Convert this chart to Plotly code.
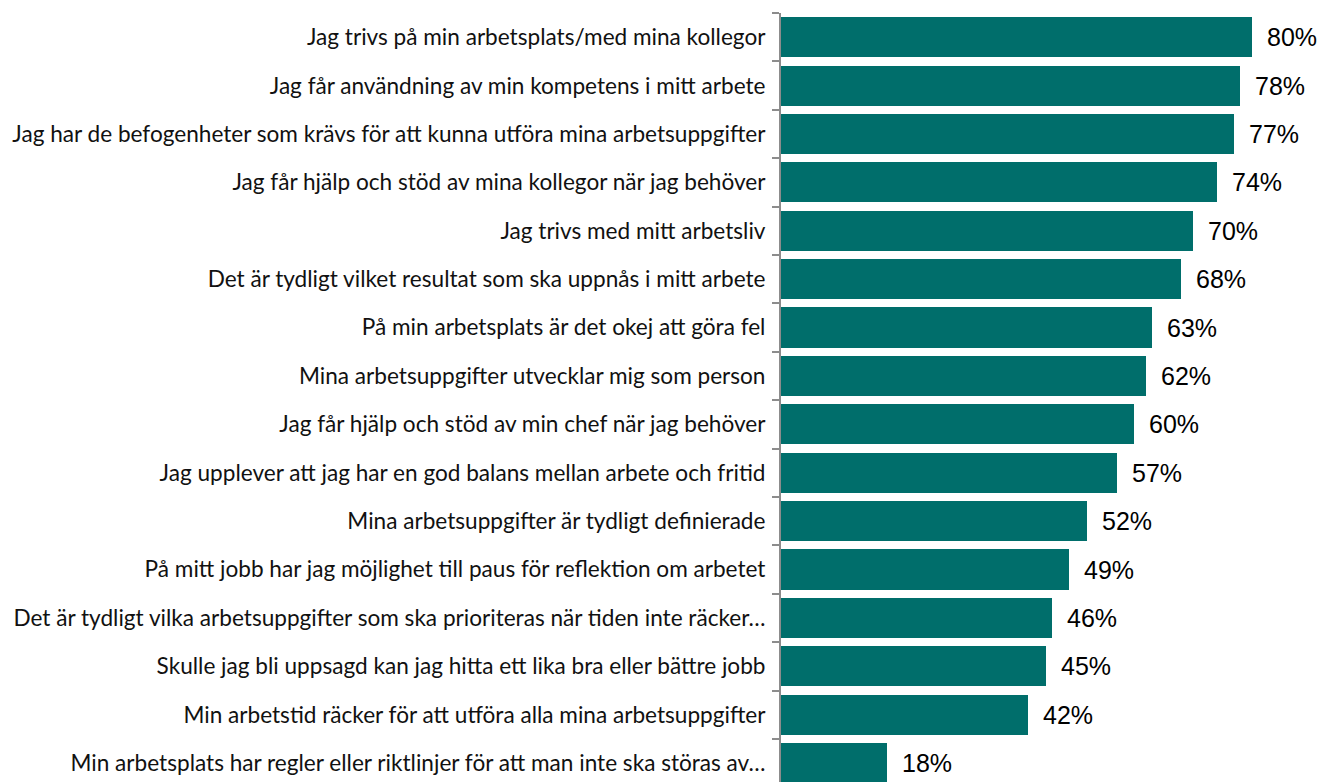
import plotly.graph_objects as go

STATEMENTS = [
    "Jag trivs på min arbetsplats/med mina kollegor",
    "Jag får användning av min kompetens i mitt arbete",
    "Jag har de befogenheter som krävs för att kunna utföra mina arbetsuppgifter",
    "Jag får hjälp och stöd av mina kollegor när jag behöver",
    "Jag trivs med mitt arbetsliv",
    "Det är tydligt vilket resultat som ska uppnås i mitt arbete",
    "På min arbetsplats är det okej att göra fel",
    "Mina arbetsuppgifter utvecklar mig som person",
    "Jag får hjälp och stöd av min chef när jag behöver",
    "Jag upplever att jag har en god balans mellan arbete och fritid",
    "Mina arbetsuppgifter är tydligt definierade",
    "På mitt jobb har jag möjlighet till paus för reflektion om arbetet",
    "Det är tydligt vilka arbetsuppgifter som ska prioriteras när tiden inte räcker…",
    "Skulle jag bli uppsagd kan jag hitta ett lika bra eller bättre jobb",
    "Min arbetstid räcker för att utföra alla mina arbetsuppgifter",
    "Min arbetsplats har regler eller riktlinjer för att man inte ska störas av…",
]
SHARES = [80, 78, 77, 74, 70, 68, 63, 62, 60, 57, 52, 49, 46, 45, 42, 18]

positions = list(range(len(STATEMENTS)))
boundaries = [p - 0.5 for p in positions]

fig = go.Figure(
    go.Bar(
        x=SHARES,
        y=positions,
        orientation="h",
        width=0.83,
        marker={"color": "#006E6B", "line": {"width": 0}},
        hoverinfo="skip",
    )
)

for pos, share in zip(positions, SHARES):
    fig.add_annotation(
        x=share,
        y=pos,
        text=f"{share}%",
        showarrow=False,
        xanchor="left",
        xshift=13,
        font={"family": "Liberation Sans, Arial", "size": 25, "color": "#000000"},
    )

fig.update_layout(
    width=1322,
    height=782,
    margin={"l": 781, "r": 0, "t": 13, "b": 0},
    paper_bgcolor="white",
    plot_bgcolor="white",
    showlegend=False,
    bargap=0,
    xaxis={
        "range": [0, 91.9],
        "visible": False,
        "fixedrange": True,
    },
    yaxis={
        "range": [15.39, -0.5],
        "tickmode": "array",
        "tickvals": positions,
        "ticktext": STATEMENTS,
        "ticks": "",
        "showgrid": False,
        "zeroline": False,
        "showline": True,
        "linecolor": "#8c8c8c",
        "linewidth": 2,
        "ticklabelstandoff": 9,
        "automargin": False,
        "fixedrange": True,
        "tickfont": {"family": "Lato, Carlito, sans-serif", "size": 22.6, "color": "#111111"},
        "minor": {
            "tickmode": "array",
            "tickvals": boundaries,
            "ticks": "outside",
            "ticklen": 7,
            "tickwidth": 2,
            "tickcolor": "#8c8c8c",
            "showgrid": False,
        },
    },
)

# drop the browser's default page margin and scrollbars so the figure fills the window
fig.write_html(
    "out.html",
    config={"displayModeBar": False},
    post_script=(
        "document.body.style.margin='0';"
        "document.body.style.overflow='hidden';"
        "document.documentElement.style.overflow='hidden';"
    ),
)
